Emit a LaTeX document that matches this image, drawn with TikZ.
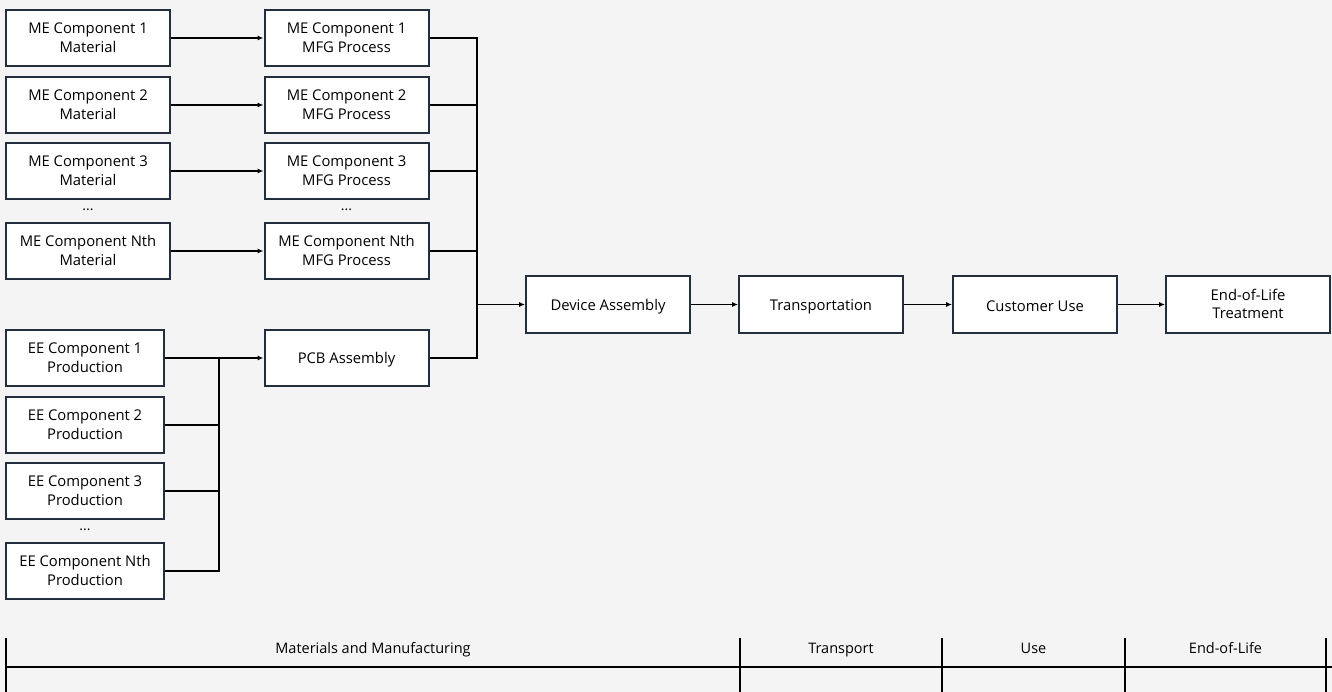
\documentclass[tikz,border=0pt]{standalone}
\usepackage{fontspec}
\setmainfont{Open Sans}
\usetikzlibrary{arrows.meta}
\definecolor{bgcol}{HTML}{F4F4F4}
\definecolor{edgecol}{HTML}{232F3E}
\tikzset{
  box/.style={draw=edgecol, line width=2pt, fill=white, minimum height=56pt, align=center,
    font=\fontsize{14.8}{18.5}\selectfont, inner sep=0pt,
    execute at begin node={\rule{0pt}{15pt}},
    execute at end node={\rule[-1pt]{0pt}{1pt}}},
  mebox/.style={box, minimum width=164pt},
  eebox/.style={box, minimum width=158pt},
  flow/.style={-{Latex[length=6pt,width=5pt]}, line width=1.1pt},
  bus/.style={line width=2pt},
  dots/.style={font=\fontsize{14}{14}\selectfont, inner sep=0pt},
  head/.style={font=\fontsize{14.5}{14.5}\selectfont, inner sep=0pt, text height=10pt, text depth=3pt}
}
\begin{document}
\begin{tikzpicture}[x=1pt, y=-1pt]
    \fill[bgcol] (0,0) rectangle (1332,692);
    \useasboundingbox (0,0) rectangle (1332,692);

    % mechanical parts
    \node[mebox] (mat1) at (88,38) {ME Component 1\\Material};
    \node[mebox] (mat2) at (88,105) {ME Component 2\\Material};
    \node[mebox] (mat3) at (88,171) {ME Component 3\\Material};
    \node[dots] (matdots) at (88,210) {...};
    \node[mebox] (matN) at (88,251) {ME Component Nth\\Material};

    \node[mebox] (mfg1) at (346.5,38) {ME Component 1\\MFG Process};
    \node[mebox] (mfg2) at (346.5,105) {ME Component 2\\MFG Process};
    \node[mebox] (mfg3) at (346.5,171) {ME Component 3\\MFG Process};
    \node[dots] (mfgdots) at (346.5,210) {...};
    \node[mebox] (mfgN) at (346.5,251) {ME Component Nth\\MFG Process};

    % electronic parts
    \node[eebox] (ee1) at (85,358) {EE Component 1\\Production};
    \node[eebox] (ee2) at (85,425) {EE Component 2\\Production};
    \node[eebox] (ee3) at (85,491) {EE Component 3\\Production};
    \node[dots] (eedots) at (85,530) {...};
    \node[eebox] (eeN) at (85,571) {EE Component Nth\\Production};

    \node[mebox] (pcb) at (346.5,358) {PCB Assembly};

    % life cycle
    \node[mebox] (dev) at (608,304.5) {Device Assembly};
    \node[mebox] (trans) at (821,304.5) {Transportation};
    \node[mebox] (use) at (1035,304.5) {Customer Use};
    \node[mebox] (eol) at (1248,304.5) {End-of-Life\\Treatment};

    \coordinate (mebus) at (477,0);
    \coordinate (eebus) at (219,0);

    \draw[flow] (mat1) -- (mfg1);
    \draw[flow] (mat2) -- (mfg2);
    \draw[flow] (mat3) -- (mfg3);
    \draw[flow] (matN) -- (mfgN);

    \draw[bus] (mfg1.east) -- (mfg1.east -| mebus) |- (pcb.east);
    \draw[bus] (mfg2.east) -- (mfg2.east -| mebus);
    \draw[bus] (mfg3.east) -- (mfg3.east -| mebus);
    \draw[bus] (mfgN.east) -- (mfgN.east -| mebus);

    \draw[flow] (ee1) -- (pcb);
    \draw[bus] (eeN.east) -| (ee1.east -| eebus);
    \draw[bus] (ee2.east) -- (ee2.east -| eebus);
    \draw[bus] (ee3.east) -- (ee3.east -| eebus);

    \draw[flow] (dev.west -| mebus) -- (dev);
    \draw[flow] (dev) -- (trans);
    \draw[flow] (trans) -- (use);
    \draw[flow] (use) -- (eol);

    % stage table
    \draw[bus] (6,667) -- (1332,667);
    \foreach \x in {6,740,942,1125,1326}
        \draw[bus] (\x,638) -- (\x,692);
    \node[head] (stmat) at (373,650) {Materials and Manufacturing};
    \node[head] (sttrans) at (841,650) {Transport};
    \node[head] (stuse) at (1033.5,650) {Use};
    \node[head] (steol) at (1225.5,650) {End-of-Life};
\end{tikzpicture}
\end{document}
